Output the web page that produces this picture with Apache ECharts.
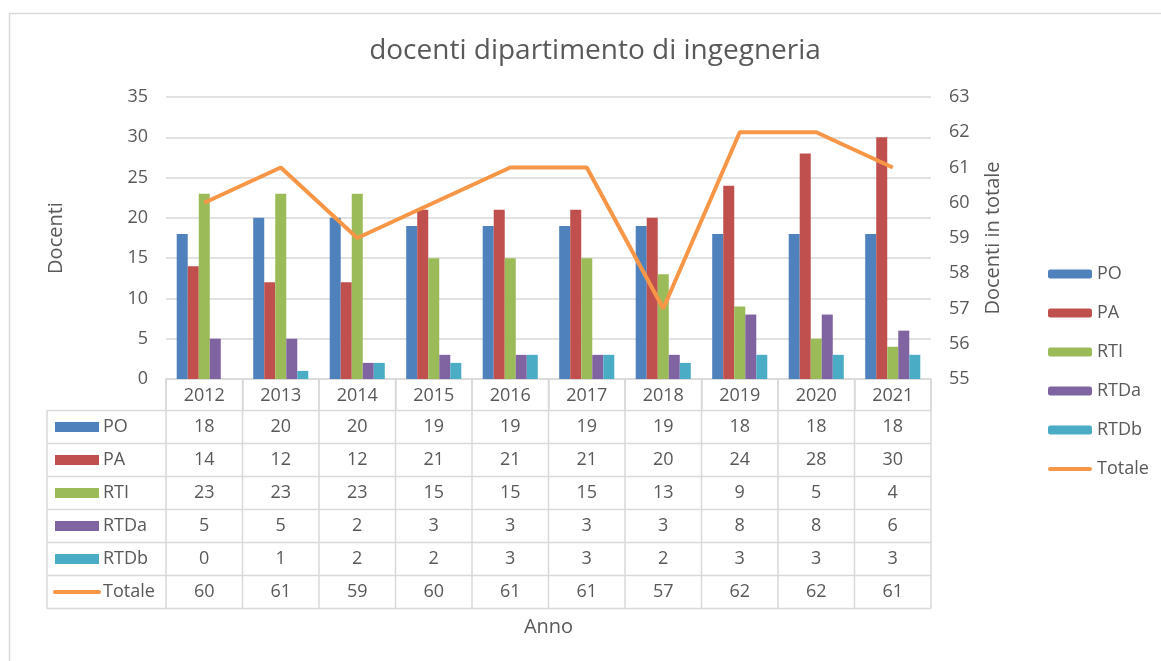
<!DOCTYPE html>
<html>
<head>
<meta charset="utf-8">
<script src="https://cdn.jsdelivr.net/npm/echarts@6/dist/echarts.min.js"></script>
<style>
  html, body { margin: 0; padding: 0; background: #fff; }
  #chart { width: 1161px; height: 661px; }
</style>
</head>
<body>
<div id="chart"></div>
<script>
// dati
var anni = ['2012', '2013', '2014', '2015', '2016', '2017', '2018', '2019', '2020', '2021'];
var po = [18, 20, 20, 19, 19, 19, 19, 18, 18, 18];
var pa = [14, 12, 12, 21, 21, 21, 20, 24, 28, 30];
var rti = [23, 23, 23, 15, 15, 15, 13, 9, 5, 4];
var rtda = [5, 5, 2, 3, 3, 3, 3, 8, 8, 6];
var rtdb = [0, 1, 2, 2, 3, 3, 2, 3, 3, 3];
var totale = [60, 61, 59, 60, 61, 61, 57, 62, 62, 61];

var nomi = ['PO', 'PA', 'RTI', 'RTDa', 'RTDb', 'Totale'];
var colori = ['#4F81BD', '#C0504D', '#9BBB59', '#8064A2', '#4BACC6', '#F79646'];
var righe = [po, pa, rti, rtda, rtdb, totale];

var font = '"Open Sans", Lato, sans-serif';
var grigio = '#595959';
var linea = '#D9D9D9';

var myChart = echarts.init(document.getElementById('chart'));

var series = [];
for (var i = 0; i < 5; i++) {
    series.push({
        name: nomi[i],
        type: 'bar',
        data: righe[i],
        barGap: '0%',
        barCategoryGap: '28%',
        itemStyle: { color: colori[i] }
    });
}
series.push({
    name: 'Totale',
    type: 'line',
    yAxisIndex: 1,
    data: totale,
    symbol: 'none',
    lineStyle: { color: colori[5], width: 4 },
    itemStyle: { color: colori[5] }
});

var legendData = nomi.map(function (n, i) {
    if (i < 5) return { name: n };
    return { name: n, icon: 'path://M2,0 L42,0 Q44,0 44,2 Q44,4 42,4 L2,4 Q0,4 0,2 Q0,0 2,0 Z' };
});

var option = {
    backgroundColor: '#fff',
    animation: false,
    textStyle: { fontFamily: font },
    title: {
        text: 'docenti dipartimento di ingegneria',
        left: 590,
        textAlign: 'center',
        top: 32,
        textStyle: { fontFamily: font, fontSize: 28, fontWeight: 'normal', color: grigio }
    },
    legend: {
        orient: 'vertical',
        left: 1043,
        top: 260,
        itemWidth: 44,
        itemHeight: 9,
        itemGap: 21,
        data: legendData,
        textStyle: { fontFamily: font, fontSize: 18, color: grigio }
    },
    grid: { left: 166, right: 230, top: 97, bottom: 282 },
    xAxis: {
        type: 'category',
        data: anni,
        name: 'Anno',
        nameLocation: 'middle',
        nameGap: 238,
        nameTextStyle: { fontSize: 20, color: grigio },
        axisLine: { lineStyle: { color: linea, width: 1.5 } },
        axisTick: { show: true, length: 31, lineStyle: { color: linea, width: 1.5 } },
        axisLabel: { fontSize: 18, color: grigio, margin: 8 }
    },
    yAxis: [{
        type: 'value',
        min: 0,
        max: 35,
        interval: 5,
        name: 'Docenti',
        nameLocation: 'middle',
        nameGap: 100,
        nameTextStyle: { fontSize: 20, color: grigio },
        axisLabel: { fontSize: 18, color: grigio, margin: 18 },
        splitLine: { lineStyle: { color: linea, width: 1.5 } }
    }, {
        type: 'value',
        min: 55,
        max: 63,
        interval: 1,
        name: 'Docenti in totale',
        nameLocation: 'middle',
        nameGap: 52,
        nameTextStyle: { fontSize: 20, color: grigio },
        axisLabel: { fontSize: 18, color: grigio, margin: 18 },
        splitLine: { show: false }
    }],
    series: series
};

myChart.setOption(option);

// tabella dati sotto il grafico
function disegnaTabella() {
    var centri = anni.map(function (a, i) {
        return myChart.convertToPixel({ xAxisIndex: 0 }, i);
    });
    var meta = (centri[1] - centri[0]) / 2;
    var y0 = myChart.convertToPixel({ yAxisIndex: 0 }, 0);
    var hRiga = 33;
    var yTop = y0 + 31.5;
    var xSin = 47;
    var xDes = centri[centri.length - 1] + meta;
    var el = [];

    el.push({
        type: 'rect',
        shape: { x: 9.5, y: 13.5, width: 1200, height: 700 },
        style: { fill: 'none', stroke: linea, lineWidth: 1.5 },
        z: -10
    });

    for (var r = 0; r <= righe.length; r++) {
        var y = yTop + r * hRiga;
        el.push({ type: 'line', shape: { x1: xSin, y1: y, x2: xDes, y2: y }, style: { stroke: linea, lineWidth: 1.5 } });
    }
    var yBottom = yTop + righe.length * hRiga;
    el.push({ type: 'line', shape: { x1: xSin, y1: yTop, x2: xSin, y2: yBottom }, style: { stroke: linea, lineWidth: 1.5 } });
    for (var c = 0; c <= anni.length; c++) {
        var x = centri[0] - meta + c * meta * 2;
        el.push({ type: 'line', shape: { x1: x, y1: y0, x2: x, y2: yBottom }, style: { stroke: linea, lineWidth: 1.5 } });
    }

    righe.forEach(function (valori, r) {
        var yc = yTop + r * hRiga + hRiga / 2;
        if (r < 5) {
            el.push({ type: 'rect', shape: { x: 55, y: yc - 5, width: 44, height: 10 }, style: { fill: colori[r] } });
        } else {
            el.push({ type: 'line', shape: { x1: 55, y1: yc, x2: 99, y2: yc }, style: { stroke: colori[r], lineWidth: 4, lineCap: 'round' } });
        }
        el.push({
            type: 'text', x: 103, y: yc,
            style: { text: nomi[r], fill: grigio, font: '18px ' + font, textAlign: 'left', textVerticalAlign: 'middle' }
        });
        valori.forEach(function (v, i) {
            el.push({
                type: 'text', x: centri[i], y: yc,
                style: { text: String(v), fill: grigio, font: '18px ' + font, textAlign: 'center', textVerticalAlign: 'middle' }
            });
        });
    });

    myChart.setOption({ graphic: el });
}

disegnaTabella();
</script>
</body>
</html>
